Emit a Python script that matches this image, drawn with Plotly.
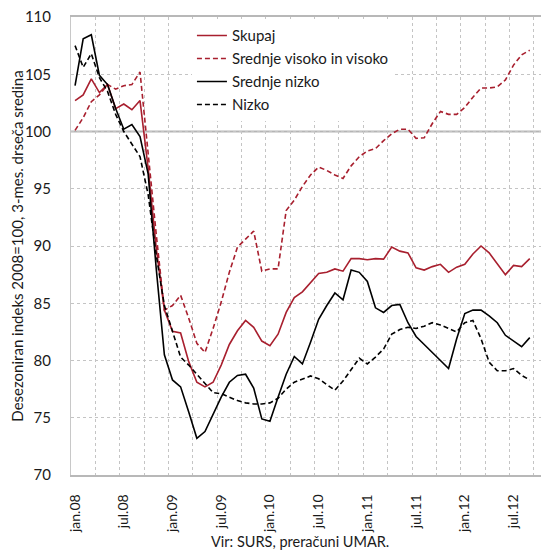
import plotly.graph_objects as go

# ---- data ----
MONTH_ABBR = ["jan", "feb", "mar", "apr", "maj", "jun",
              "jul", "avg", "sep", "okt", "nov", "dec"]
YEARS = ["08", "09", "10", "11", "12"]
N_MONTHS = 57  # jan.08 .. sep.12
CATEGORIES = [f"{m}.{y}" for y in YEARS for m in MONTH_ABBR][:N_MONTHS]

TICK_LABELS = ["jan.08", "jul.08", "jan.09", "jul.09", "jan.10",
               "jul.10", "jan.11", "jul.11", "jan.12", "jul.12"]

SKUPAJ = [102.7, 103.2, 104.6, 103.4, 104.1, 102.0, 102.4, 101.9, 102.7, 96.8,
          89.8, 84.4, 82.55, 82.4, 79.9, 78.1, 77.7, 78.1, 79.6, 81.4,
          82.6, 83.5, 82.9, 81.7, 81.3, 82.3, 84.2, 85.5, 86.0, 86.8,
          87.6, 87.7, 88.0, 87.8, 88.9, 88.9, 88.8, 88.9, 88.85, 89.9,
          89.55, 89.4, 88.1, 87.9, 88.2, 88.4, 87.7, 88.15, 88.4, 89.3,
          90.0, 89.4, 88.4, 87.5, 88.3, 88.2, 88.9]

SREDNJE_VISOKO = [100.1, 101.2, 102.6, 103.2, 104.1, 103.7, 104.0, 104.1, 105.2, 98.0,
                  91.0, 84.4, 84.8, 85.7, 83.7, 81.5, 80.7, 82.8, 85.1, 87.7,
                  89.9, 90.6, 91.3, 87.8, 88.0, 88.0, 93.1, 94.0, 95.2, 96.2,
                  96.9, 96.6, 96.2, 95.9, 97.0, 97.8, 98.3, 98.5, 99.2, 99.8,
                  100.2, 100.2, 99.4, 99.45, 100.7, 101.75, 101.5, 101.5, 102.1, 103.0,
                  103.8, 103.8, 103.9, 104.5, 105.8, 106.7, 107.1]

SREDNJE_NIZKO = [104.0, 108.1, 108.45, 104.9, 104.1, 102.0, 100.2, 100.6, 99.55, 96.3,
                 88.0, 80.5, 78.3, 77.7, 75.5, 73.2, 73.8, 75.3, 76.8, 78.1,
                 78.7, 78.8, 77.6, 74.9, 74.7, 76.8, 78.8, 80.35, 79.7, 81.6,
                 83.6, 84.8, 85.9, 85.3, 87.9, 87.7, 86.9, 84.6, 84.2, 84.8,
                 84.9, 83.3, 82.1, 81.4, 80.7, 80.0, 79.3, 81.9, 84.1, 84.4,
                 84.4, 83.9, 83.3, 82.2, 81.7, 81.2, 82.0]

NIZKO = [107.5, 105.6, 106.8, 104.7, 103.5, 101.5, 100.0, 98.9, 97.8, 94.5,
         89.2, 84.8, 82.5, 80.3, 79.6, 78.8, 78.0, 77.2, 77.1, 76.8,
         76.5, 76.3, 76.2, 76.2, 76.3, 76.7, 77.5, 78.1, 78.4, 78.65,
         78.4, 77.9, 77.4, 78.2, 79.2, 80.2, 79.7, 80.3, 81.0, 82.3,
         82.7, 82.9, 82.8, 83.0, 83.3, 83.1, 82.8, 82.5, 83.3, 83.5,
         81.9, 79.85, 79.1, 79.1, 79.3, 78.7, 78.3]

BASE_LEVEL = 100
SERIES_NAMES = ["Skupaj", "Srednje visoko in visoko", "Srednje nizko", "Nizko"]
Y_TITLE = "Desezoniran indeks 2008=100, 3-mes. drseča sredina"
SOURCE = "Vir: SURS, preračuni UMAR."

# ---- styling ----
RED = "#a81f2e"
BLACK = "#000000"
FONT = "Lato"
GRID = "#c4c4c4"

x_idx = list(range(len(CATEGORIES)))
tick_pos = [CATEGORIES.index(t) for t in TICK_LABELS]

fig = go.Figure()
series = [
    (SERIES_NAMES[0], SKUPAJ, RED, "solid"),
    (SERIES_NAMES[1], SREDNJE_VISOKO, RED, "5px,3px"),
    (SERIES_NAMES[2], SREDNJE_NIZKO, BLACK, "solid"),
    (SERIES_NAMES[3], NIZKO, BLACK, "5px,3px"),
]
for name, vals, col, dash in series:
    fig.add_trace(go.Scatter(
        x=x_idx, y=vals, name=name, mode="lines", legendgroup=name,
        line=dict(color=col, width=1.6, dash=dash),
        customdata=CATEGORIES, hovertemplate="%{customdata}: %{y}<extra>" + name + "</extra>",
    ))

fig.add_shape(type="line", xref="paper", x0=0, x1=1, yref="y",
              y0=BASE_LEVEL, y1=BASE_LEVEL, line=dict(color="#b5b5b5", width=2),
              layer="below")

# page body has an 8px default margin, so the figure is offset by 8px
fig.update_layout(
    width=541, height=545,
    margin=dict(l=63, r=0, t=9, b=78),
    paper_bgcolor="white", plot_bgcolor="white",
    font=dict(family=FONT, size=15, color="#1a1a1a"),
    showlegend=True,
    legend=dict(x=0.253, y=0.995, xanchor="left", yanchor="top",
                bgcolor="white", font=dict(size=15, family=FONT),
                traceorder="grouped", tracegroupgap=0.5),
    xaxis=dict(
        range=[-0.5, 58.37],
        tickmode="array", tickvals=tick_pos, ticktext=TICK_LABELS,
        tickangle=-90, tickfont=dict(size=14), ticks="",
        ticklabelstandoff=12, ticklabeloverflow="allow",
        showgrid=False, zeroline=False,
        showline=True, linecolor="#b8b8b8", linewidth=1.5, mirror=True,
        minor=dict(tickmode="linear", tick0=2.5, dtick=3, showgrid=True,
                   gridcolor=GRID, griddash="dot", gridwidth=1, ticks=""),
    ),
    yaxis=dict(
        range=[70, 110], tickmode="linear", tick0=70, dtick=5,
        tickfont=dict(size=15), ticks="", ticklabelstandoff=16,
        ticklabeloverflow="allow",
        showgrid=True, gridcolor=GRID, griddash="dot", gridwidth=1,
        zeroline=False, showline=True, linecolor="#c8c8c8", linewidth=1,
        title=dict(text=Y_TITLE, font=dict(size=15), standoff=0),
    ),
    annotations=[dict(text=SOURCE, xref="paper", yref="paper", x=0.479, y=-0.146,
                      xanchor="center", yanchor="middle", showarrow=False,
                      font=dict(size=14.5, family=FONT))],
)

fig.write_html("out.html")
